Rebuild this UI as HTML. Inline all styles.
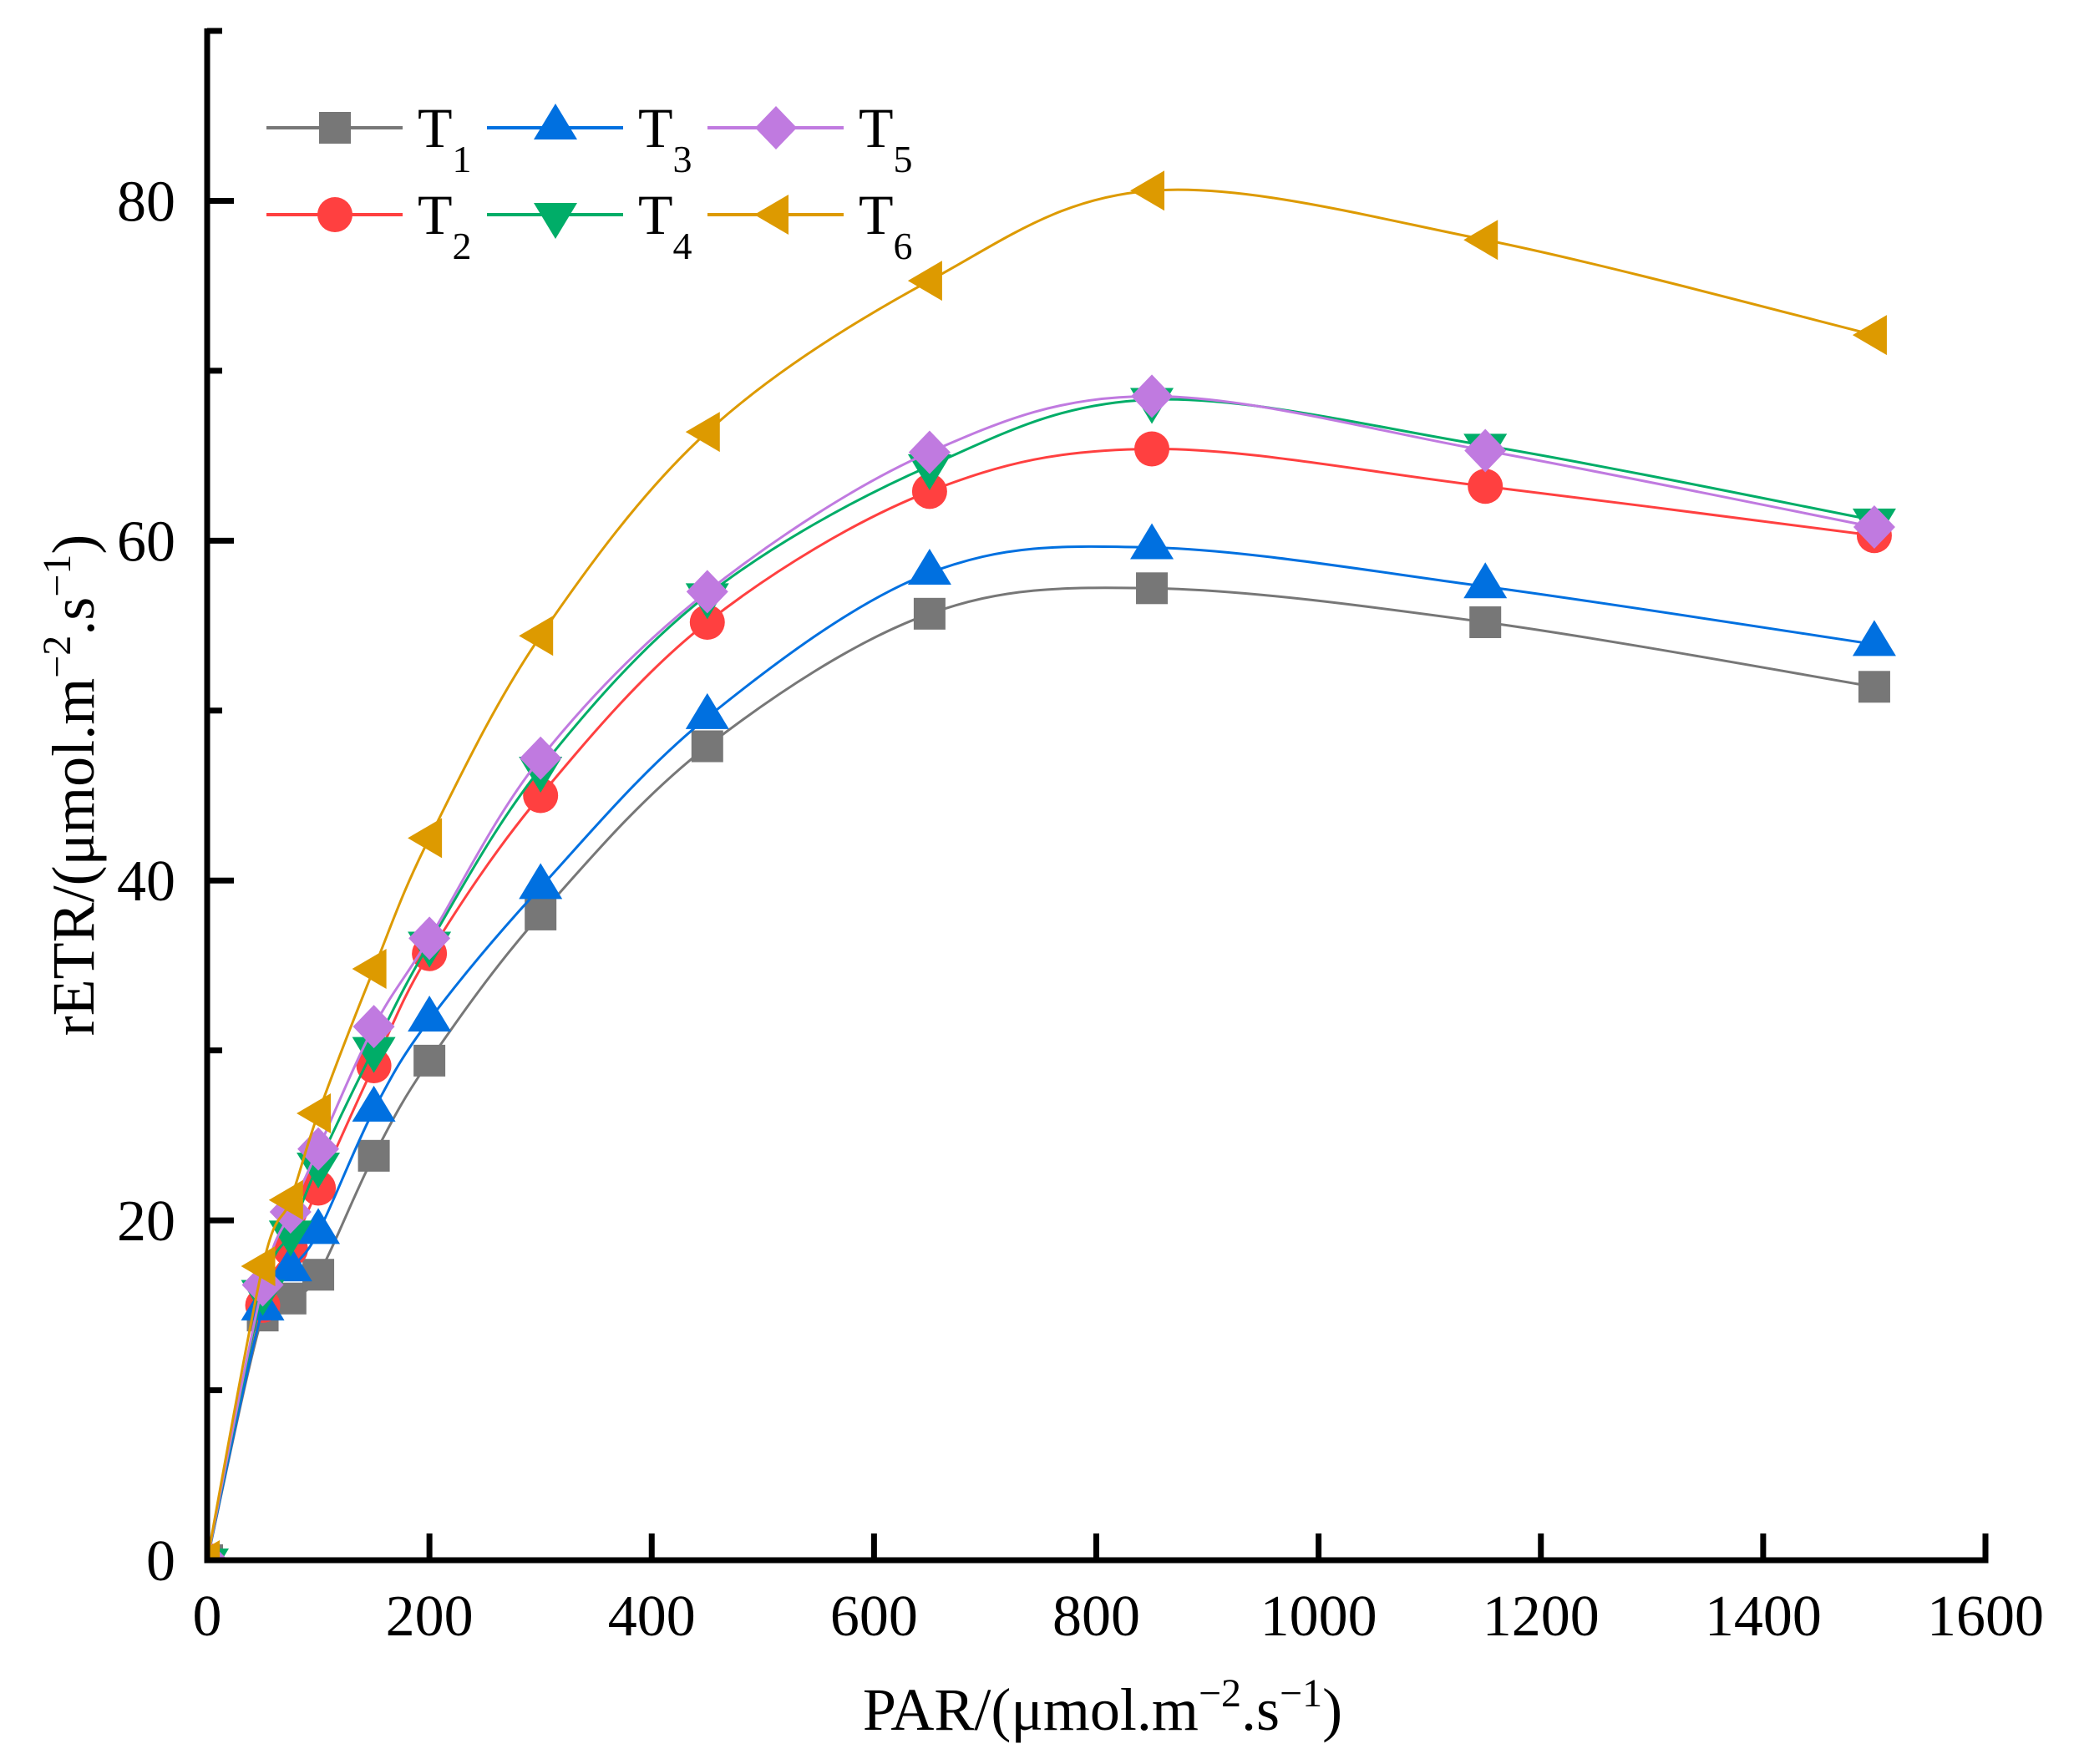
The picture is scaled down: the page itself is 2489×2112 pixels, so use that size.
<!DOCTYPE html>
<html><head><meta charset="utf-8"><style>
html,body{margin:0;padding:0;background:#fff;}
svg{display:block;font-family:"Liberation Serif",serif;}
</style></head><body>
<svg id="chart" width="2489" height="2112" viewBox="0 0 2489 2112" xmlns="http://www.w3.org/2000/svg">
<defs><clipPath id="plotclip"><rect x="248" y="0" width="2200" height="1868"/></clipPath></defs>
<rect width="2489" height="2112" fill="#fff"/>
<g id="series" clip-path="url(#plotclip)"></g>
<g id="axes"></g>
<g id="legend"></g>
<text x="1320" y="2071" font-size="72" text-anchor="middle">PAR/(μmol.m<tspan dy="-28" font-size="48">−2</tspan><tspan dy="28">.s</tspan><tspan dy="-28" font-size="48">−1</tspan><tspan dy="28">)</tspan></text>
<text transform="translate(112,940) rotate(-90)" font-size="72" text-anchor="middle">rETR/(μmol.m<tspan dy="-28" font-size="48">−2</tspan><tspan dy="28">.s</tspan><tspan dy="-28" font-size="48">−1</tspan><tspan dy="28">)</tspan></text>
</svg>
<script>
const parValues = [0, 50, 75, 100, 150, 200, 300, 450, 650, 850, 1150, 1500];
const seriesNames = ["T1","T2","T3","T4","T5","T6"];
const t1Values = [0, 14.4, 15.4, 16.8, 23.8, 29.4, 38.0, 47.9, 55.7, 57.2, 55.2, 51.4];
const t2Values = [0, 15.0, 18.3, 21.9, 29.1, 35.7, 45.0, 55.2, 62.9, 65.4, 63.2, 60.3];
const t3Values = [0, 14.8, 17.1, 19.3, 26.5, 31.8, 39.6, 49.6, 58.1, 59.6, 57.3, 53.9];
const t4Values = [0, 15.8, 19.3, 23.3, 30.1, 36.3, 46.6, 56.8, 64.4, 68.3, 65.6, 61.2];
const t5Values = [0, 16.2, 20.5, 24.2, 31.4, 36.6, 47.2, 57.0, 65.2, 68.5, 65.3, 60.8];
const t6Values = [0, 17.3, 21.2, 26.3, 34.8, 42.5, 54.4, 66.4, 75.3, 80.6, 77.7, 72.1];
const xTicks = [0, 200, 400, 600, 800, 1000, 1200, 1400, 1600];
const yTicks = [0, 20, 40, 60, 80];
const yMinorTicks = [10, 30, 50, 70, 90];

const NS = "http://www.w3.org/2000/svg";
const X0 = 248, X1 = 2377, Y0 = 1868, YTOP = 37;
const xs = v => X0 + v / 1600 * (X1 - X0);
const ys = v => Y0 - v / 90 * (Y0 - YTOP);
function mk(tag, attrs, parent) {
  const e = document.createElementNS(NS, tag);
  for (const k in attrs) e.setAttribute(k, attrs[k]);
  parent.appendChild(e); return e;
}
const colors = ["#777777", "#ff4040", "#0070e0", "#00ad68", "#c07ae0", "#dd9a00"];
const shapes = ["square", "circle", "up", "down", "diamond", "left"];
const allValues = [t1Values, t2Values, t3Values, t4Values, t5Values, t6Values];

function marker(shape, cx, cy, color, parent) {
  let e;
  if (shape === "square") e = mk("rect", {x: cx - 19, y: cy - 19, width: 38, height: 38, fill: color}, parent);
  else if (shape === "circle") e = mk("ellipse", {cx: cx, cy: cy, rx: 21, ry: 21, fill: color}, parent);
  else if (shape === "up") e = mk("polygon", {points: `${cx},${cy-29} ${cx+26},${cy+14} ${cx-26},${cy+14}`, fill: color}, parent);
  else if (shape === "down") e = mk("polygon", {points: `${cx},${cy+29} ${cx+26},${cy-14} ${cx-26},${cy-14}`, fill: color}, parent);
  else if (shape === "diamond") e = mk("polygon", {points: `${cx},${cy-26} ${cx+25},${cy} ${cx},${cy+26} ${cx-25},${cy}`, fill: color}, parent);
  else e = mk("polygon", {points: `${cx-26},${cy} ${cx+15},${cy-24} ${cx+15},${cy+24}`, fill: color}, parent);
  return e;
}
function splinePath(pts) {
  let d = `M${pts[0][0]},${pts[0][1]}`;
  for (let i = 0; i < pts.length - 1; i++) {
    const p0 = pts[Math.max(0, i - 1)], p1 = pts[i], p2 = pts[i + 1], p3 = pts[Math.min(pts.length - 1, i + 2)];
    const c1 = [p1[0] + (p2[0] - p0[0]) / 6, p1[1] + (p2[1] - p0[1]) / 6];
    const c2 = [p2[0] - (p3[0] - p1[0]) / 6, p2[1] - (p3[1] - p1[1]) / 6];
    d += ` C${c1[0]},${c1[1]} ${c2[0]},${c2[1]} ${p2[0]},${p2[1]}`;
  }
  return d;
}
const sg = document.getElementById("series");
allValues.forEach((vals, si) => {
  const g = mk("g", {}, sg);
  
  
  const pts = parValues.map((p, i) => [xs(p), ys(vals[i])]);
  const path = mk("path", {d: splinePath(pts), fill: "none", stroke: colors[si], "stroke-width": 3}, g);
  
  
  pts.forEach((p, i) => {
    const m = marker(shapes[si], p[0], p[1], colors[si], g);
    
    
  });
});

const ag = document.getElementById("axes");
const yAxis = mk("line", {x1: X0, y1: YTOP - 3, x2: X0, y2: Y0 + 3.5, stroke: "#000", "stroke-width": 7}, ag);


const xAxis = mk("line", {x1: X0 - 3.5, y1: Y0, x2: X1 + 3.5, y2: Y0, stroke: "#000", "stroke-width": 7}, ag);


xTicks.forEach(t => {
  const x = xs(t);
  if (t > 0) {
    const tk = mk("line", {x1: x, y1: Y0, x2: x, y2: Y0 - 32, stroke: "#000", "stroke-width": 7}, ag);
    
    
  }
  const lb = mk("text", {x: x, y: 1958, "font-size": 70, "text-anchor": "middle"}, ag);
  lb.textContent = t;
  
  
});
yTicks.forEach(t => {
  const y = ys(t);
  if (t > 0) {
    const tk = mk("line", {x1: X0, y1: y, x2: X0 + 32, y2: y, stroke: "#000", "stroke-width": 7}, ag);
    
    
  }
  const lb = mk("text", {x: 210, y: y + 24, "font-size": 70, "text-anchor": "end"}, ag);
  lb.textContent = t;
  
  
});
yMinorTicks.forEach(t => {
  const y = ys(t);
  const tk = mk("line", {x1: X0, y1: y, x2: X0 + 18, y2: y, stroke: "#000", "stroke-width": 7}, ag);
  
  
});

const lg = document.getElementById("legend");
const legendCols = [319, 583, 847];
const legendRows = [153, 257];
seriesNames.forEach((n, si) => {
  const col = Math.floor(si / 2), row = si % 2;
  const x = legendCols[col], y = legendRows[row];
  const g = mk("g", {}, lg);
  
  
  mk("line", {x1: x, y1: y, x2: x + 163, y2: y, stroke: colors[si], "stroke-width": 4}, g);
  marker(shapes[si], x + 82, y, colors[si], g);
  const t = mk("text", {x: x + 181, y: y + 23, "font-size": 68}, g);
  t.textContent = "T";
  const sub = mk("tspan", {dy: 30, "font-size": 46}, t);
  sub.textContent = n.slice(1);
});
</script>
</body></html>
